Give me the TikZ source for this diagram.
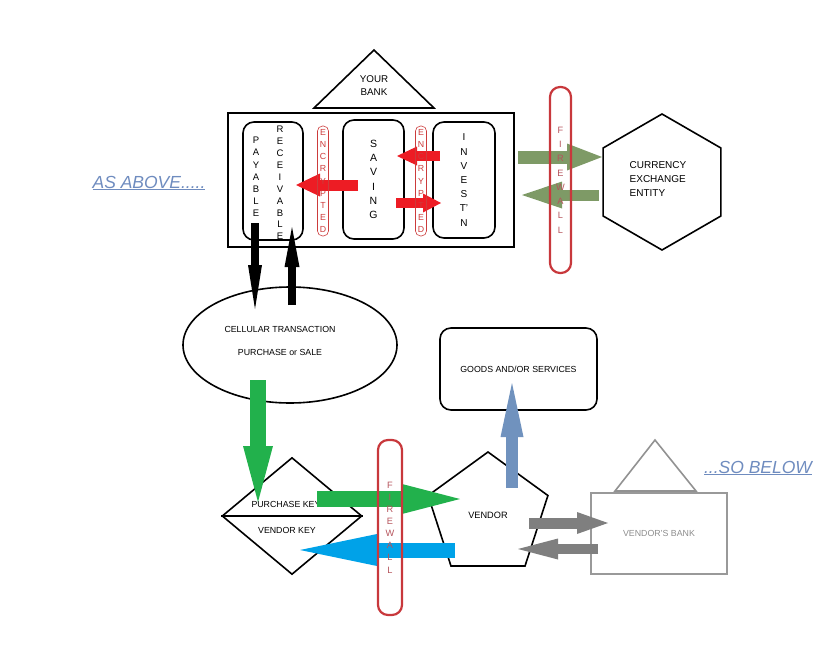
\documentclass[tikz,border=0pt]{standalone}
\usepackage{fontspec}
\setmainfont{Liberation Sans}
\definecolor{BankRed}{HTML}{ED1C24}
\definecolor{CryptRed}{HTML}{CC3B3B}
\definecolor{WallRed}{HTML}{C8383C}
\definecolor{WallText}{HTML}{B5535B}
\definecolor{FxOlive}{HTML}{7E9A66}
\definecolor{BuyGreen}{HTML}{22B14C}
\definecolor{KeyBlue}{HTML}{00A2E8}
\definecolor{GoodsBlue}{HTML}{7092BE}
\definecolor{VendGray}{HTML}{7F7F7F}
\definecolor{MottoBlue}{HTML}{6F8CBF}
\usepackage{tikz}
\usetikzlibrary{arrows.meta,shapes.geometric}

\begin{document}
\begin{tikzpicture}[x=1pt,y=-1pt,font=\fontsize{8.8}{10.5}\selectfont,
  fat/.style n args={3}{line width=#1,-{Triangle[length=#2,width=#3,line width=0pt]}},
  rbox/.style={draw,line width=1.6pt,rounded corners=11pt,align=center,inner sep=0pt},
  letters/.style={align=center,inner sep=0pt},
  crypt/.style={draw=CryptRed,line width=0.6pt,rounded corners=5pt,minimum width=11pt,
                minimum height=110pt,inner sep=0pt,align=center,text=CryptRed,
                font=\fontsize{8.8}{12.1}\selectfont},
  wall/.style={draw=WallRed,line width=2.2pt,rounded corners=10pt,inner sep=0pt,
               align=center,text=WallText},
  motto/.style={font=\fontsize{17.5}{20}\selectfont\itshape,text=MottoBlue}]
  \useasboundingbox (0,0) rectangle (839,648);

  % your bank
  \draw[line width=1.6pt] (314,108) -- (374,50) -- (434,108) -- cycle;
  \node[letters,font=\fontsize{9.8}{13}\selectfont] (yourbank) at (374,86) {YOUR\\BANK};
  \node[draw,line width=1.8pt,minimum width=286pt,minimum height=134pt] (bank) at (371,180) {};
  \node[rbox,minimum width=60pt,minimum height=118pt] (payrec) at (273,181) {};
  \node[letters,font=\fontsize{9.5}{12.2}\selectfont] (payable) at (256,177) {P\\A\\Y\\A\\B\\L\\E};
  \node[letters,font=\fontsize{9.5}{11.9}\selectfont] (receivable) at (280,183) {R\\E\\C\\E\\I\\V\\A\\B\\L\\E};
  \node[rbox,minimum width=61pt,minimum height=119pt,font=\fontsize{10.5}{14.3}\selectfont]
       (saving) at (373.5,179.5) {S\\A\\V\\I\\N\\G};
  \node[rbox,minimum width=62pt,minimum height=116pt,font=\fontsize{10}{14.2}\selectfont]
       (invest) at (464,180) {I\\N\\V\\E\\S\\T'\\N};

  \node[draw,line width=1.6pt,regular polygon,regular polygon sides=6,shape border rotate=30,
        minimum size=136pt] (fx) at (662,182) {};
  \node[align=left,font=\fontsize{10}{14}\selectfont] (fxtxt) at (658,179)
       {CURRENCY\\EXCHANGE\\ENTITY};

  \node[motto] (above) at (149,183) {\underline{AS ABOVE.....}};

  % transaction and keys
  \node[draw,ellipse,line width=1.6pt,minimum width=214pt,minimum height=116pt] (cell) at (290,345) {};
  \node[align=center] (celltxt) at (280,341) {CELLULAR TRANSACTION\\[13pt]PURCHASE or SALE};
  \node[draw,diamond,line width=1.6pt,minimum width=140pt,minimum height=117pt,inner sep=0pt]
       (keys) at (292,516) {};
  \draw[line width=1.6pt] (keys.west) -- (keys.east);
  \node (pkey) at (286,504) {PURCHASE KEY};
  \node (vkey) at (287,530) {VENDOR KEY};

  % vendor side
  \node[rbox,minimum width=157pt,minimum height=82pt] (goods) at (518.5,369) {GOODS AND/OR SERVICES};
  \node[draw,line width=1.6pt,regular polygon,regular polygon sides=5,minimum size=126pt,
        font=\fontsize{9.2}{10}\selectfont] (vendor) at (488,515) {VENDOR};
  \draw[VendGray!85,line width=1.6pt] (615,491) -- (655,440) -- (696,491) -- cycle;
  \node[draw=VendGray!80,line width=1.8pt,minimum width=136pt,minimum height=81pt,
        text=VendGray!90] (vbank) at (659,533.5) {VENDOR'S BANK};
  \node[motto] (below) at (758,468) {\underline{...SO BELOW}};

  % arrow ends
  \coordinate (payout) at (255,223);   \coordinate (cellin) at (255,309);
  \coordinate (cellout) at (292,305);  \coordinate (recin) at (292,227);
  \coordinate (savout) at (358,185);   \coordinate (payin) at (296,185);
  \coordinate (invout) at (440,156);   \coordinate (savin) at (397,156);
  \coordinate (savout2) at (396,203);  \coordinate (invin) at (441,203);
  \coordinate (bankout) at (518,157);  \coordinate (fxin) at (602,157);
  \coordinate (fxout) at (599,195);    \coordinate (bankin) at (522,195);
  \coordinate (buyout) at (258,380);   \coordinate (keyin) at (258,502);
  \coordinate (keyout) at (317,499);   \coordinate (vendin) at (460,499);
  \coordinate (vendout) at (455,550);  \coordinate (keyback) at (300,550);
  \coordinate (shipout) at (512,488);  \coordinate (goodsin) at (512,383);
  \coordinate (payvb) at (529,523);    \coordinate (vbin) at (608,523);
  \coordinate (vbout) at (598,549);    \coordinate (vendback) at (518,549);

  \draw[fat={8pt}{44pt}{14pt}] (payout) -- (cellin);
  \draw[fat={8pt}{40pt}{15pt}] (cellout) -- (recin);
  \draw[BankRed,fat={11pt}{24pt}{23pt}] (savout) -- (payin);
  \draw[BankRed,fat={10pt}{20pt}{19pt}] (invout) -- (savin);
  \draw[BankRed,fat={10pt}{18pt}{19pt}] (savout2) -- (invin);
  \draw[FxOlive,fat={13pt}{35pt}{27pt}] (bankout) -- (fxin);
  \draw[FxOlive,fat={11pt}{40pt}{27pt}] (fxout) -- (bankin);
  \draw[BuyGreen,fat={16pt}{56pt}{30pt}] (buyout) -- (keyin);
  \draw[BuyGreen,fat={16pt}{58pt}{30pt}] (keyout) -- (vendin);
  \draw[KeyBlue,fat={15pt}{77pt}{32pt}] (vendout) -- (keyback);
  \draw[GoodsBlue,fat={12pt}{54pt}{23pt}] (shipout) -- (goodsin);
  \draw[VendGray,fat={11pt}{31pt}{22pt}] (payvb) -- (vbin);
  \draw[VendGray,fat={10pt}{40pt}{21pt}] (vbout) -- (vendback);

  % encryption and firewalls
  \node[crypt] (crypt1) at (323,181) {E\\N\\C\\R\\Y\\P\\T\\E\\D};
  \node[crypt] (crypt2) at (421,181) {E\\N\\C\\R\\Y\\P\\T\\E\\D};
  \node[wall,minimum width=21pt,minimum height=186pt,font=\fontsize{9.2}{14.3}\selectfont]
       (wall1) at (560.5,180) {F\\I\\R\\E\\W\\A\\L\\L};
  \node[wall,minimum width=24pt,minimum height=175pt,font=\fontsize{9.2}{12.1}\selectfont]
       (wall2) at (390,527.5) {F\\I\\R\\E\\W\\A\\L\\L};
\end{tikzpicture}
\end{document}
